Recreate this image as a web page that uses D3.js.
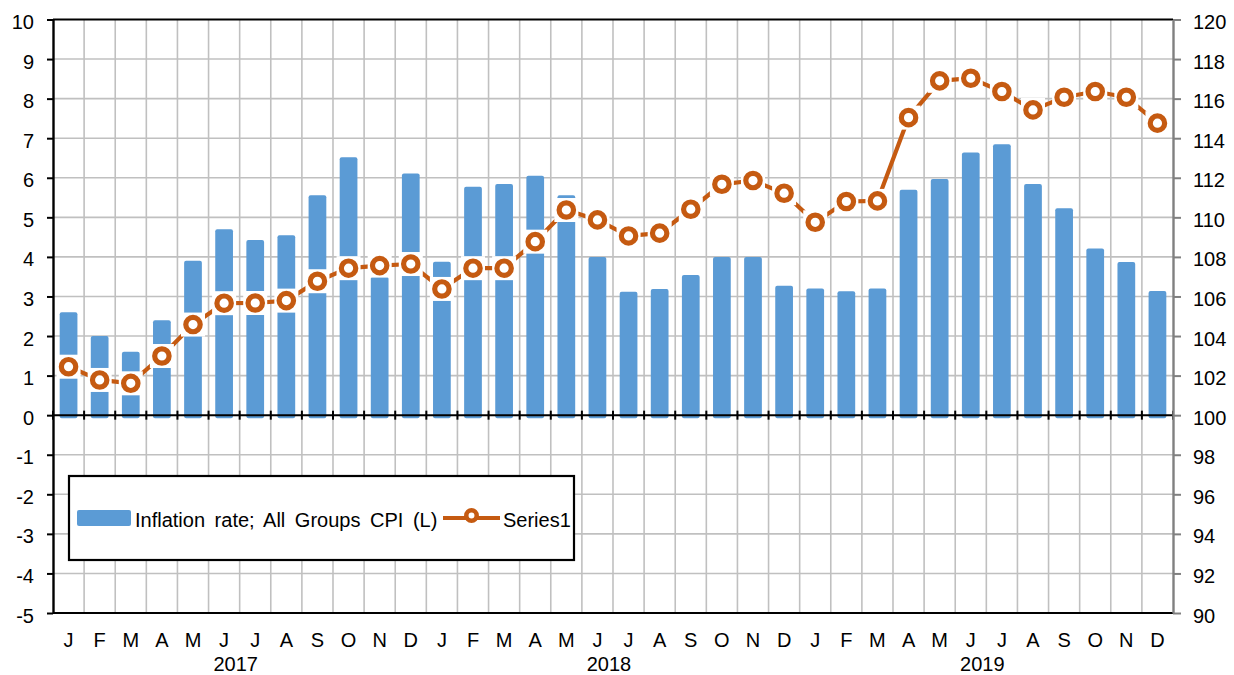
<!DOCTYPE html>
<html>
<head>
<meta charset="utf-8">
<script src="https://cdn.jsdelivr.net/npm/d3@7"></script>
<style>
  html, body { margin: 0; padding: 0; background: #fff; }
  svg { display: block; }
  text { font-family: "Liberation Sans", Arial, sans-serif; fill: #000; }
</style>
</head>
<body>
<svg id="chart" width="1234" height="675"></svg>
<script>
// ---- data ----
const monthLabels = ["J","F","M","A","M","J","J","A","S","O","N","D",
                     "J","F","M","A","M","J","J","A","S","O","N","D",
                     "J","F","M","A","M","J","J","A","S","O","N","D"];
const yearLabels = ["2017", "2018", "2019"];
const inflation = [2.6, 2.0, 1.6, 2.4, 3.9, 4.7, 4.43, 4.55, 5.56, 6.52, 3.5, 6.11,
                   3.88, 5.77, 5.84, 6.05, 5.56, 4.0, 3.12, 3.19, 3.54, 4.0, 4.0, 3.27,
                   3.2, 3.13, 3.2, 5.7, 5.97, 6.64, 6.85, 5.84, 5.23, 4.21, 3.87, 3.14];
const series1 = [102.45, 101.78, 101.61, 102.99, 104.58, 105.66, 105.67, 105.79, 106.77, 107.43, 107.56, 107.64,
                 106.38, 107.43, 107.43, 108.77, 110.37, 109.87, 109.06, 109.2, 110.41, 111.67, 111.86, 111.22,
                 109.75, 110.8, 110.83, 115.04, 116.9, 117.03, 116.36, 115.43, 116.07, 116.36, 116.07, 114.76];
const leftTicks = [-5, -4, -3, -2, -1, 0, 1, 2, 3, 4, 5, 6, 7, 8, 9, 10];
const rightTicks = [90, 92, 94, 96, 98, 100, 102, 104, 106, 108, 110, 112, 114, 116, 118, 120];
const legendLabels = ["Inflation rate; All Groups CPI (L)", "Series1"];

// ---- layout ----
const L = 53, R = 1173, T = 19.5, B = 613;
const barColor = "#5B9BD5", lineColor = "#C55A11", gridColor = "#c0c0c0";
const n = inflation.length;
const svg = d3.select("#chart");

const x = d3.scaleBand().domain(d3.range(n)).range([L, R]).paddingInner(0.43).paddingOuter(0.215);
const xb = d3.scaleLinear().domain([0, n]).range([L, R]);
const yL = d3.scaleLinear().domain([-5, 10]).range([B, T]);
const yR = d3.scaleLinear().domain([90, 120]).range([B, T]);

// gridlines
const grid = svg.append("g");
grid.selectAll("line.h").data(leftTicks.filter(d => d !== -5 && d !== 0 && d !== 10)).enter().append("line")
  .attr("x1", L).attr("x2", R).attr("y1", d => yL(d)).attr("y2", d => yL(d))
  .attr("stroke", gridColor).attr("stroke-width", 1.6);
grid.selectAll("line.v").data(d3.range(1, n)).enter().append("line")
  .attr("x1", d => xb(d)).attr("x2", d => xb(d)).attr("y1", T).attr("y2", B)
  .attr("stroke", gridColor).attr("stroke-width", 1.6);

// bars
svg.append("g").selectAll("rect").data(inflation).enter().append("rect")
  .attr("x", (d, i) => x(i)).attr("width", x.bandwidth())
  .attr("y", d => yL(Math.max(d, 0)))
  .attr("height", d => Math.abs(yL(d) - yL(0)) + 3)
  .attr("rx", 2).attr("ry", 2)
  .attr("fill", barColor);

// line
const cx = i => x(i) + x.bandwidth() / 2;
svg.append("path").datum(series1)
  .attr("d", d3.line().x((d, i) => cx(i)).y(d => yR(d)))
  .attr("fill", "none").attr("stroke", lineColor).attr("stroke-width", 4.2);

// white halos around markers
svg.append("g").selectAll("rect").data(series1).enter().append("rect")
  .attr("x", (d, i) => cx(i) - 12).attr("y", d => yR(d) - 12)
  .attr("width", 24).attr("height", 24).attr("fill", "#fff");

// markers
svg.append("g").selectAll("circle").data(series1).enter().append("circle")
  .attr("cx", (d, i) => cx(i)).attr("cy", d => yR(d)).attr("r", 7.2)
  .attr("fill", "#fff").attr("stroke", lineColor).attr("stroke-width", 5.2);

// axis frame lines
svg.append("line").attr("x1", L).attr("x2", R).attr("y1", T).attr("y2", T).attr("stroke", "#000").attr("stroke-width", 2);
svg.append("line").attr("x1", L).attr("x2", R).attr("y1", B).attr("y2", B).attr("stroke", "#000").attr("stroke-width", 2);
svg.append("line").attr("x1", L).attr("x2", R).attr("y1", yL(0)).attr("y2", yL(0)).attr("stroke", "#000").attr("stroke-width", 2);
svg.append("g").selectAll("line").data(d3.range(0, n + 1)).enter().append("line")
  .attr("x1", d => xb(d)).attr("x2", d => xb(d)).attr("y1", yL(0) - 4.5).attr("y2", yL(0) + 4.5)
  .attr("stroke", "#000").attr("stroke-width", 2);

// left axis
const axL = svg.append("g").attr("transform", `translate(${L},0)`)
  .call(d3.axisLeft(yL).tickValues(leftTicks).tickFormat(d => String(d)).tickSize(6).tickPadding(13).tickSizeOuter(0));
axL.select(".domain").attr("stroke", "#000").attr("stroke-width", 2.4);
axL.selectAll(".tick line").attr("stroke", "#000").attr("stroke-width", 2);
axL.selectAll(".tick text").attr("font-size", 20).attr("font-family", "Liberation Sans, Arial, sans-serif")
  .attr("dy", "0.45em").attr("fill", "#000");

// right axis
const axR = svg.append("g").attr("transform", `translate(${R},0)`)
  .call(d3.axisRight(yR).tickValues(rightTicks).tickFormat(d => String(d)).tickSize(8).tickPadding(12).tickSizeOuter(0));
axR.select(".domain").attr("stroke", "#808080").attr("stroke-width", 2.4);
axR.selectAll(".tick line").attr("stroke", "#808080").attr("stroke-width", 2);
axR.selectAll(".tick text").attr("font-size", 20).attr("font-family", "Liberation Sans, Arial, sans-serif")
  .attr("dy", "0.45em").attr("fill", "#000");

// month labels
svg.append("g").selectAll("text").data(monthLabels).enter().append("text")
  .attr("x", (d, i) => cx(i)).attr("y", 647)
  .attr("text-anchor", "middle").attr("font-size", 20).text(d => d);
// year labels
svg.append("g").selectAll("text").data(yearLabels).enter().append("text")
  .attr("x", (d, i) => xb(6 + i * 12) - 4).attr("y", 671)
  .attr("text-anchor", "middle").attr("font-size", 20).text(d => d);

// legend
const lg = svg.append("g");
lg.append("rect").attr("x", 69).attr("y", 476).attr("width", 505).attr("height", 84)
  .attr("fill", "#fff").attr("stroke", "#000").attr("stroke-width", 2.2);
lg.append("rect").attr("x", 77).attr("y", 510).attr("width", 54).attr("height", 16)
  .attr("rx", 2).attr("fill", barColor);
lg.append("text").attr("x", 135).attr("y", 527).attr("font-size", 20).attr("word-spacing", 4)
  .text(legendLabels[0]);
lg.append("line").attr("x1", 443).attr("x2", 500).attr("y1", 518).attr("y2", 518)
  .attr("stroke", lineColor).attr("stroke-width", 4.2);
lg.append("circle").attr("cx", 471.5).attr("cy", 515.5).attr("r", 5.2)
  .attr("fill", "#fff").attr("stroke", lineColor).attr("stroke-width", 4.5);
lg.append("text").attr("x", 503).attr("y", 527).attr("font-size", 20).text(legendLabels[1]);
</script>
</body>
</html>
